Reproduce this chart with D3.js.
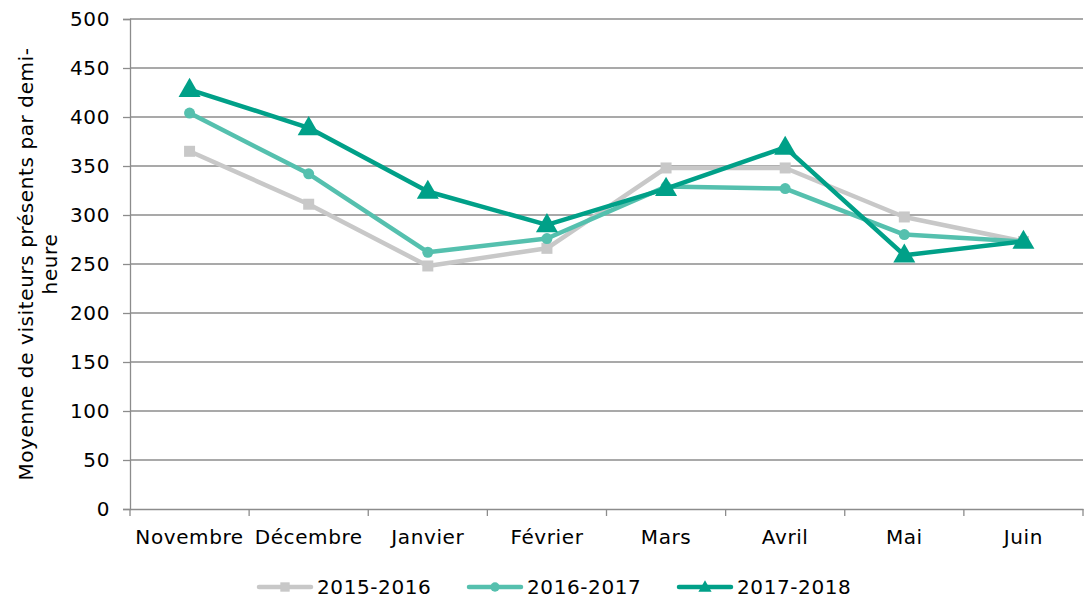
<!DOCTYPE html>
<html>
<head>
<meta charset="utf-8">
<script src="https://cdn.jsdelivr.net/npm/d3@7"></script>
<style>
  body { margin: 0; background: #fff; }
  text { font-family: "DejaVu Sans", Verdana, sans-serif; fill: #000; letter-spacing: 0.6px; }
</style>
</head>
<body>
<svg id="chart" width="1086" height="600"></svg>
<script>
// data
const months = ['Novembre', 'Décembre', 'Janvier', 'Février', 'Mars', 'Avril', 'Mai', 'Juin'];
const s2015 = [365, 311, 248, 266, 348, 348, 298, 273];
const s2016 = [404, 342, 262, 276, 329, 327, 280, 273];
const s2017 = [428, 389, 324, 290, 327, 369, 259, 273];
const yTicks = [0, 50, 100, 150, 200, 250, 300, 350, 400, 450, 500];

const series = [
  { name: '2015-2016', values: s2015, color: '#c8c8c8', marker: 'square' },
  { name: '2016-2017', values: s2016, color: '#55c0ae', marker: 'circle' },
  { name: '2017-2018', values: s2017, color: '#00a088', marker: 'triangle' }
];

const FONT = 20;
const svg = d3.select('#chart');
const L = 130, R = 1083, T = 19, B = 509;

const x = d3.scaleBand().domain(months).range([L, R]);
const y = d3.scaleLinear().domain([0, 500]).range([B, T]);

// grid
svg.append('g').selectAll('line')
  .data(yTicks.filter(d => d > 0))
  .join('line')
  .attr('x1', L).attr('x2', R)
  .attr('y1', d => y(d)).attr('y2', d => y(d))
  .attr('stroke', '#8c8c8c').attr('stroke-width', 1.3);

// y axis
const yAxis = svg.append('g')
  .attr('transform', `translate(${L},0)`)
  .call(d3.axisLeft(y).tickValues(yTicks).tickSize(7).tickPadding(13));
yAxis.select('.domain').attr('stroke', '#8c8c8c').attr('stroke-width', 1.3);
yAxis.selectAll('.tick line').attr('stroke', '#8c8c8c').attr('stroke-width', 1.3);
yAxis.selectAll('text').attr('font-size', FONT).style('font-family', '"DejaVu Sans", sans-serif');

// x axis
const xAxis = svg.append('g')
  .attr('transform', `translate(0,${B})`)
  .call(d3.axisBottom(x).tickSize(0).tickPadding(21));
xAxis.select('.domain').attr('stroke', '#8c8c8c').attr('stroke-width', 1.3);
xAxis.selectAll('text').attr('font-size', FONT).style('font-family', '"DejaVu Sans", sans-serif');
// tick marks at band boundaries
svg.append('g').selectAll('line')
  .data(months.map(m => x(m)).concat([R]))
  .join('line')
  .attr('x1', d => d).attr('x2', d => d)
  .attr('y1', B).attr('y2', B + 7)
  .attr('stroke', '#8c8c8c').attr('stroke-width', 1.3);

// y label
svg.append('text')
  .attr('transform', 'translate(33,264) rotate(-90)')
  .attr('text-anchor', 'middle')
  .attr('font-size', FONT)
  .selectAll('tspan')
  .data(['Moyenne de visiteurs présents par demi-', 'heure'])
  .join('tspan')
  .attr('x', 0)
  .attr('dy', (d, i) => i === 0 ? 0 : '1.2em')
  .text(d => d);

const cx = m => x(m) + x.bandwidth() / 2;
const line = d3.line().x((d, i) => cx(months[i])).y(d => y(d));

function drawMarker(g, type, color, px, py, scale) {
  if (type === 'square') {
    const s = 11 * scale;
    g.append('rect').attr('x', px - s / 2).attr('y', py - s / 2)
      .attr('width', s).attr('height', s).attr('fill', color);
  } else if (type === 'circle') {
    g.append('circle').attr('cx', px).attr('cy', py).attr('r', 5.5 * scale).attr('fill', color);
  } else {
    const sym = d3.symbol().type(d3.symbolTriangle).size(210 * scale * scale);
    g.append('path').attr('d', sym()).attr('transform', `translate(${px},${py + 1})`).attr('fill', color);
  }
}

series.forEach(s => {
  const g = svg.append('g');
  g.append('path').datum(s.values)
    .attr('d', line)
    .attr('fill', 'none')
    .attr('stroke', s.color)
    .attr('stroke-width', 4.5)
    .attr('stroke-linejoin', 'round');
  s.values.forEach((v, i) => drawMarker(g, s.marker, s.color, cx(months[i]), y(v), 1));
});

// legend
const legX = [257, 467, 677];
series.forEach((s, i) => {
  const g = svg.append('g').attr('transform', `translate(${legX[i]},587)`);
  g.append('line').attr('x1', 2).attr('x2', 54).attr('y1', 0).attr('y2', 0)
    .attr('stroke', s.color).attr('stroke-width', 4.5).attr('stroke-linecap', 'round');
  drawMarker(g, s.marker, s.color, 28, 0, s.marker === 'triangle' ? 0.6 : 0.85);
  g.append('text').attr('x', 60).attr('y', 0).attr('dy', '0.36em')
    .attr('font-size', FONT).text(s.name);
});
</script>
</body>
</html>
